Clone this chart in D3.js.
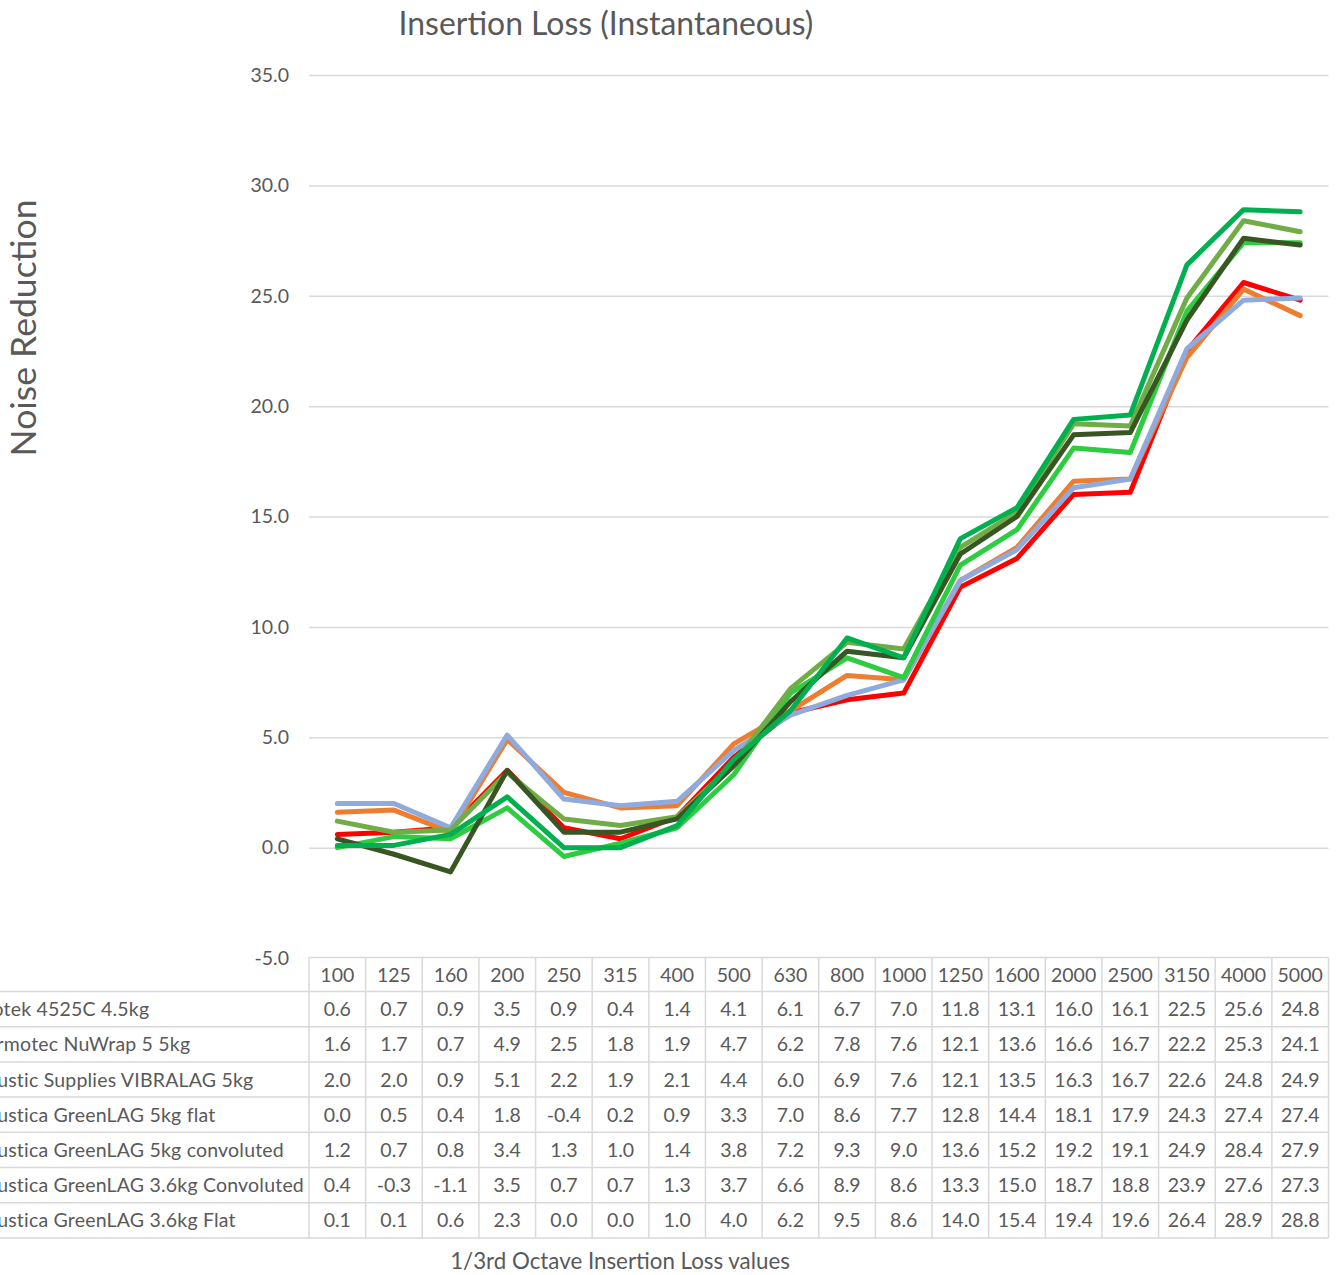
<!DOCTYPE html>
<html>
<head>
<meta charset="utf-8">
<script src="https://cdn.jsdelivr.net/npm/d3@7"></script>
<style>
  html, body { margin: 0; padding: 0; background: #fff; }
  svg { display: block; }
  text { font-family: Lato, "Open Sans", sans-serif; fill: #595959; }
</style>
</head>
<body>
<svg id="chart" width="1344" height="1275"></svg>
<script>
// ---------------- data ----------------
const categories = ["100","125","160","200","250","315","400","500","630","800","1000","1250","1600","2000","2500","3150","4000","5000"];
const seriesNames = [
  "Pyrotek 4525C 4.5kg",
  "Thermotec NuWrap 5 5kg",
  "Acoustic Supplies VIBRALAG 5kg",
  "Acoustica GreenLAG 5kg flat",
  "Acoustica GreenLAG 5kg convoluted",
  "Acoustica GreenLAG 3.6kg Convoluted",
  "Acoustica GreenLAG 3.6kg Flat"
];
const pyrotek      = [0.6,0.7,0.9,3.5,0.9,0.4,1.4,4.1,6.1,6.7,7.0,11.8,13.1,16.0,16.1,22.5,25.6,24.8];
const thermotec    = [1.6,1.7,0.7,4.9,2.5,1.8,1.9,4.7,6.2,7.8,7.6,12.1,13.6,16.6,16.7,22.2,25.3,24.1];
const vibralag     = [2.0,2.0,0.9,5.1,2.2,1.9,2.1,4.4,6.0,6.9,7.6,12.1,13.5,16.3,16.7,22.6,24.8,24.9];
const green5Flat   = [0.0,0.5,0.4,1.8,-0.4,0.2,0.9,3.3,7.0,8.6,7.7,12.8,14.4,18.1,17.9,24.3,27.4,27.4];
const green5Conv   = [1.2,0.7,0.8,3.4,1.3,1.0,1.4,3.8,7.2,9.3,9.0,13.6,15.2,19.2,19.1,24.9,28.4,27.9];
const green36Conv  = [0.4,-0.3,-1.1,3.5,0.7,0.7,1.3,3.7,6.6,8.9,8.6,13.3,15.0,18.7,18.8,23.9,27.6,27.3];
const green36Flat  = [0.1,0.1,0.6,2.3,0.0,0.0,1.0,4.0,6.2,9.5,8.6,14.0,15.4,19.4,19.6,26.4,28.9,28.8];
const seriesValues = [pyrotek, thermotec, vibralag, green5Flat, green5Conv, green36Conv, green36Flat];
const seriesColors = ["#FF0000","#ED7D31","#8FAADC","#2ECC40","#70AD47","#375623","#00B050"];
const yTicks = [-5,0,5,10,15,20,25,30,35];
const titleText = "Insertion Loss (Instantaneous)";
const yTitleText = "Noise Reduction";
const xTitleText = "1/3rd Octave Insertion Loss values";

// ---------------- layout ----------------
const svg = d3.select("#chart");
const plotL = 309, plotR = 1328.5, plotT = 75, plotB = 958;
const tableTop = 957.5, headerH = 34, rowH = 35.2;
const gridColor = "#D9D9D9";
const fmt = v => v.toFixed(1);

const x = d3.scaleBand().domain(categories).range([plotL, plotR]).paddingInner(0).paddingOuter(0);
const y = d3.scaleLinear().domain([-5, 35]).range([plotB, plotT]);

function fit(sel, w) {
  const l = sel.node().getComputedTextLength();
  const fs = parseFloat(sel.attr("font-size"));
  sel.attr("font-size", fs * w / l);
}

// gridlines
const grid = svg.append("g").attr("transform", `translate(${plotL},0)`)
  .call(d3.axisLeft(y).tickValues(yTicks.filter(t => t > -5)).tickSize(-(plotR - plotL)).tickFormat(""));
grid.select(".domain").remove();
grid.selectAll(".tick line").attr("stroke", gridColor).attr("stroke-width", 1.5);

// y tick labels
const yAxis = svg.append("g").attr("transform", `translate(${plotL},0)`)
  .call(d3.axisLeft(y).tickValues(yTicks).tickSize(0).tickPadding(20).tickFormat(fmt));
yAxis.select(".domain").remove();
yAxis.selectAll(".tick text").attr("font-size", 19.5).attr("fill", "#595959")
  .style("font-family", "Lato, 'Open Sans', sans-serif");

// title
const title = svg.append("text").attr("x", 606).attr("y", 35).attr("text-anchor", "middle")
  .attr("font-size", 28).text(titleText);
fit(title, 415);

// y title
const yt = svg.append("text").attr("transform", "translate(36,328) rotate(-90)")
  .attr("text-anchor", "middle").attr("font-size", 34).text(yTitleText);
fit(yt, 257);

// x title
const xt = svg.append("text").attr("x", 620).attr("y", 1269).attr("text-anchor", "middle")
  .attr("font-size", 20).text(xTitleText);
fit(xt, 340);

// ---------------- data table ----------------
const table = svg.append("g");
const nRows = seriesNames.length;
const tableBottom = tableTop + headerH + nRows * rowH;
// header top line
table.append("line").attr("x1", plotL).attr("x2", plotR).attr("y1", tableTop).attr("y2", tableTop)
  .attr("stroke", gridColor).attr("stroke-width", 1.5);
// row lines
d3.range(nRows + 1).forEach(i => {
  const yy = tableTop + headerH + i * rowH;
  table.append("line").attr("x1", 0).attr("x2", plotR).attr("y1", yy).attr("y2", yy)
    .attr("stroke", gridColor).attr("stroke-width", 1.5);
});
// column lines
const colEdges = categories.map(c => x(c)).concat([plotR]);
table.selectAll("line.col").data(colEdges).join("line").attr("class", "col")
  .attr("x1", d => d).attr("x2", d => d).attr("y1", tableTop).attr("y2", tableBottom)
  .attr("stroke", gridColor).attr("stroke-width", 1.5);
// header text
table.selectAll("text.hdr").data(categories).join("text").attr("class", "hdr")
  .attr("x", d => x(d) + x.bandwidth() / 2).attr("y", tableTop + headerH / 2)
  .attr("dy", "0.36em").attr("text-anchor", "middle").attr("font-size", 19.5).text(d => d);
// rows
seriesValues.forEach((vals, i) => {
  const cy = tableTop + headerH + i * rowH + rowH / 2;
  table.selectAll("text.r" + i).data(vals).join("text").attr("class", "r" + i)
    .attr("x", (d, j) => x(categories[j]) + x.bandwidth() / 2).attr("y", cy)
    .attr("dy", "0.36em").attr("text-anchor", "middle").attr("font-size", 19.5).text(fmt);
});
// row labels (left-aligned, clipped by page edge like the original)
const labels = table.selectAll("text.lbl").data(seriesNames).join("text").attr("class", "lbl")
  .attr("y", (d, i) => tableTop + headerH + i * rowH + rowH / 2)
  .attr("dy", "0.36em").attr("font-size", 19.5).attr("letter-spacing", 0.2).text(d => d);
let maxLen = 0;
labels.each(function() { maxLen = Math.max(maxLen, this.getComputedTextLength()); });
labels.attr("x", 304 - maxLen);

// ---------------- lines ----------------
const line = d3.line()
  .x((d, j) => x(categories[j]) + x.bandwidth() / 2)
  .y(d => y(d));
svg.append("g").selectAll("path").data(seriesValues).join("path")
  .attr("d", d => line(d))
  .attr("fill", "none")
  .attr("stroke", (d, i) => seriesColors[i])
  .attr("stroke-width", 5)
  .attr("stroke-linejoin", "round")
  .attr("stroke-linecap", "round");
</script>
</body>
</html>
